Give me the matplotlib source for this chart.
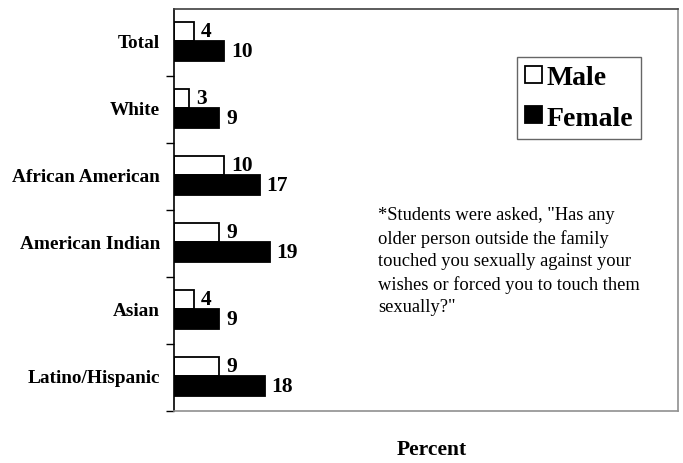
import matplotlib
matplotlib.use("Agg")
import matplotlib.pyplot as plt
import numpy as np
from matplotlib.patches import Patch

categories = ["Total", "White", "African American", "American Indian", "Asian", "Latino/Hispanic"]
male = [4, 3, 10, 9, 4, 9]
female = [10, 9, 17, 19, 9, 18]

plt.rcParams["font.family"] = ["Liberation Serif", "DejaVu Serif"]

fig = plt.figure(figsize=(6.83, 4.64), dpi=100)
ax = fig.add_axes([174 / 683, 1 - 412 / 464, 504 / 683, 402 / 464])

y = np.arange(len(categories))
h = 0.29
off = 0.02
ax.barh(y - h / 2 - off, male, height=h, color="white", edgecolor="black", linewidth=1.3)
ax.barh(y + h / 2 - off, female, height=h, color="black", edgecolor="black", linewidth=1.3)

for yi, m, f in zip(y, male, female):
    ax.text(m + 1.4, yi - h / 2 - off, str(m), ha="left", va="center",
            fontsize=15.5, fontweight="bold")
    ax.text(f + 1.3, yi + h / 2 - off, str(f), ha="left", va="center",
            fontsize=15.5, fontweight="bold")

ax.set_xlim(0, 100)
ax.set_ylim(len(categories) - 0.5, -0.5)
ax.set_xticks([])
ax.set_yticks(np.arange(0.5, len(categories), 1.0))
ax.set_yticklabels([])
ax.tick_params(axis="y", direction="out", length=6, width=1, color="black")
for yi, c in zip(y, categories):
    ax.text(-2.8, yi, c, ha="right", va="center", fontsize=13.9, fontweight="bold")

ax.spines["left"].set_color("black")
ax.spines["left"].set_linewidth(1.2)
ax.spines["top"].set_color("#404040")
ax.spines["right"].set_color("#909090")
ax.spines["bottom"].set_color("#909090")
for s in ["top", "right", "bottom"]:
    ax.spines[s].set_linewidth(1.2)

handles = [Patch(facecolor="white", edgecolor="black", linewidth=1.3, label="Male"),
           Patch(facecolor="black", edgecolor="black", linewidth=1.3, label="Female")]
leg = ax.legend(handles=handles, loc="upper left",
                bbox_to_anchor=((517 - 174) / 504, (412 - 58) / 402),
                frameon=True, fancybox=False, edgecolor="#404040",
                prop={"weight": "bold", "size": 20}, handlelength=0.6,
                handleheight=0.55, handletextpad=0.15, borderpad=0.3,
                labelspacing=0.55, borderaxespad=0)
leg.get_frame().set_linewidth(1.0)

note = ('*Students were asked, "Has any\nolder person outside the family\n'
        'touched you sexually against your\nwishes or forced you to touch them\nsexually?"')
fig.text(378 / 683, 1 - 207 / 464, note, ha="left", va="top", fontsize=13.3,
         linespacing=1.42)

fig.text(432 / 683, 1 - 450 / 464, "Percent", ha="center", va="center",
         fontsize=15.5, fontweight="bold")

fig.savefig("out.png", dpi=100)
